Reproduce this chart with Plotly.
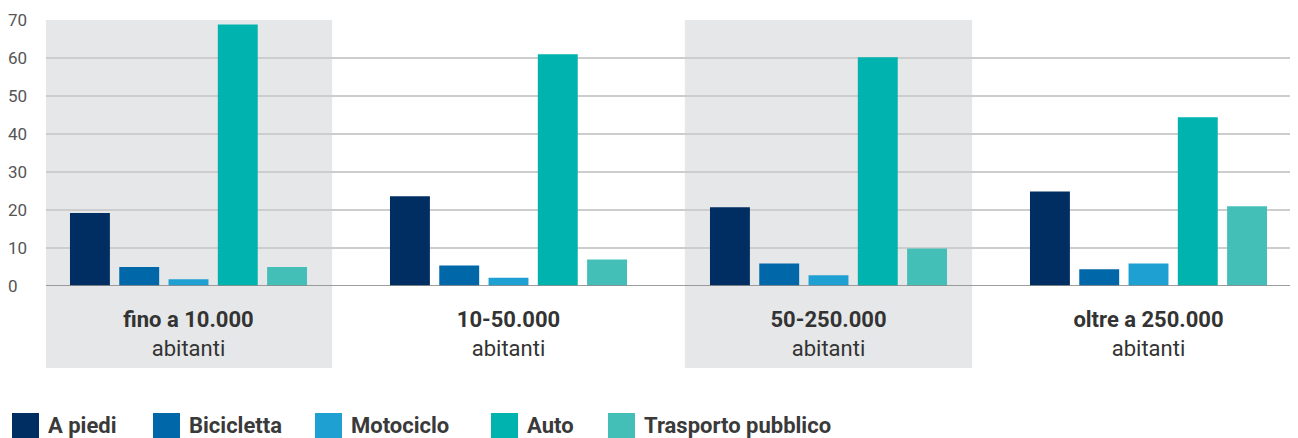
import plotly.graph_objects as go

categories = ["<b>fino a 10.000</b><br>abitanti", "<b>10-50.000</b><br>abitanti",
              "<b>50-250.000</b><br>abitanti", "<b>oltre a 250.000</b><br>abitanti"]
series_names = ["A piedi", "Bicicletta", "Motociclo", "Auto", "Trasporto pubblico"]
a_piedi = [19.2, 23.6, 20.7, 24.9]
bicicletta = [5.0, 5.4, 5.9, 4.4]
motociclo = [1.8, 2.2, 2.8, 5.9]
auto = [68.8, 61.0, 60.2, 44.4]
trasporto = [5.0, 7.0, 9.9, 21.0]
y_ticks = [0, 10, 20, 30, 40, 50, 60, 70]
y_ticktext = ["0\u2007", "10", "20", "30", "40", "50", "60", "70"]

values = [a_piedi, bicicletta, motociclo, auto, trasporto]
colors = ["#002D62", "#0068A9", "#1FA0D3", "#00B3AE", "#43BFB7"]

# the page body adds an 8px offset; figure is sized to end at the window edge
OFF = 8
W, H = 1290, 430
L, R, T = 38, 0, 12
B = H - (286 - OFF)
PW, PH = W - L - R, H - T - B


def px_x(px):
    """screen pixel (x) -> paper coordinate"""
    return (px - OFF - L) / PW


def px_y(py):
    """screen pixel (y) -> paper coordinate"""
    return (H - B - (py - OFF)) / PH


fig = go.Figure()
xs = list(range(len(categories)))
for name, vals, col in zip(series_names, values, colors):
    fig.add_trace(go.Bar(x=xs, y=vals, name=name, marker=dict(color=col, line=dict(width=0)),
                         showlegend=False))

shapes = []
# shaded bands behind alternating categories
for i in (0, 2):
    shapes.append(dict(type="rect", xref="x", yref="paper", x0=i - 0.449, x1=i + 0.449,
                       y0=px_y(368), y1=1, fillcolor="#E6E7E9", line=dict(width=0), layer="below"))
# baseline drawn over the bars
shapes.append(dict(type="line", xref="paper", yref="y", x0=0, x1=1, y0=0, y1=0,
                   line=dict(color="rgba(140,140,140,0.85)", width=2), layer="above"))

# manual legend
legend_sq_x = [12, 153, 315, 491, 608]
annotations = []
for name, col, sx in zip(series_names, colors, legend_sq_x):
    shapes.append(dict(type="rect", xref="paper", yref="paper", x0=px_x(sx), x1=px_x(sx + 27),
                       y0=px_y(439), y1=px_y(413), fillcolor=col, line=dict(width=0)))
    annotations.append(dict(xref="paper", yref="paper", x=px_x(sx + 34), y=px_y(425),
                            xanchor="left", yanchor="middle", showarrow=False,
                            text="<b>" + name + "</b>",
                            font=dict(family="Roboto", size=22, color="#3A3A3A")))

x0 = -(188.5 - OFF - L) / 320
fig.update_layout(
    width=W, height=H,
    margin=dict(l=L, r=R, t=T, b=B, pad=0),
    paper_bgcolor="white", plot_bgcolor="rgba(0,0,0,0)",
    barmode="group", bargap=0.23, bargroupgap=0.19,
    shapes=shapes, annotations=annotations,
    showlegend=False,
    font=dict(family="Roboto", color="#333333"),
    xaxis=dict(range=[x0, x0 + PW / 320], tickvals=xs, ticktext=categories,
               showgrid=False, zeroline=False, showline=False,
               tickfont=dict(family="Roboto", size=22, color="#333333"),
               ticks="", ticklabelstandoff=18),
    yaxis=dict(range=[0, 70], tickvals=y_ticks, ticktext=y_ticktext,
               showgrid=True, gridcolor="#CDCDCD", gridwidth=1.5,
               zeroline=False, showline=False, ticks="",
               tickfont=dict(family="Roboto", size=17, color="#555555"),
               ticklabelstandoff=18),
)

fig.write_html("out.html")
